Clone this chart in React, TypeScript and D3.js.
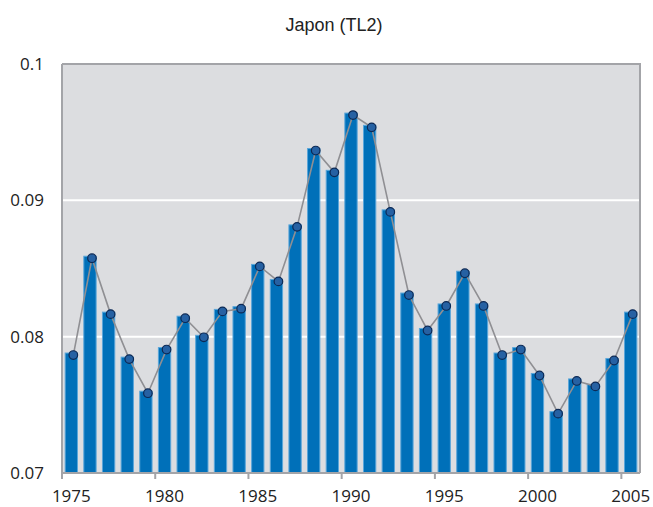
import React, { useEffect, useRef } from 'react';
import * as d3 from 'd3';

const years = d3.range(1975, 2006);
const values = [
  0.0788, 0.0859, 0.0818, 0.0785, 0.0760, 0.0792, 0.0815, 0.0801, 0.0820, 0.0822,
  0.0853, 0.0842, 0.0882, 0.0938, 0.0922, 0.0964, 0.0955, 0.0893, 0.0832, 0.0806,
  0.0824, 0.0848, 0.0824, 0.0788, 0.0792, 0.0773, 0.0745, 0.0769, 0.0765, 0.0784,
  0.0818,
];
const yTicks = [0.07, 0.08, 0.09, 0.1];
const xTickYears = [1975, 1980, 1985, 1990, 1995, 2000, 2005];
const title = 'Japon (TL2)';

const W = 653;
const H = 507;
const margin = { top: 64, right: 13, bottom: 34, left: 62 };

export default function App() {
  const ref = useRef<SVGSVGElement>(null);

  useEffect(() => {
    const svg = d3.select(ref.current);
    svg.selectAll('*').remove();

    const x = d3
      .scaleBand<number>()
      .domain(years)
      .range([margin.left, W - margin.right])
      .paddingInner(0.34)
      .paddingOuter(0.17);
    const step = x.step();
    // line series sits a touch to the right of the bar centres
    const xl = d3
      .scalePoint<number>()
      .domain(years)
      .range([margin.left + step / 2 + 2, W - margin.right - step / 2 + 2]);
    const y = d3
      .scaleLinear()
      .domain([0.07, 0.1])
      .range([H - margin.bottom, margin.top]);

    const data = years.map((yr, i) => ({ yr, v: values[i] }));

    // plot background
    svg
      .append('rect')
      .attr('x', margin.left)
      .attr('y', margin.top)
      .attr('width', W - margin.left - margin.right)
      .attr('height', H - margin.top - margin.bottom)
      .attr('fill', '#dcdde0');

    // grid
    svg
      .append('g')
      .selectAll('line')
      .data(yTicks.slice(1, -1))
      .enter()
      .append('line')
      .attr('x1', margin.left)
      .attr('x2', W - margin.right)
      .attr('y1', (d) => y(d))
      .attr('y2', (d) => y(d))
      .attr('stroke', '#ffffff')
      .attr('stroke-width', 2);

    // top + right frame
    svg
      .append('path')
      .attr(
        'd',
        `M${margin.left},${y(0.1)}H${W - margin.right}V${H - margin.bottom}`
      )
      .attr('fill', 'none')
      .attr('stroke', '#a3a4a8')
      .attr('stroke-width', 2);

    // bars
    svg
      .append('g')
      .selectAll('rect')
      .data(data)
      .enter()
      .append('rect')
      .attr('x', (d) => x(d.yr)!)
      .attr('y', (d) => y(d.v))
      .attr('width', x.bandwidth())
      .attr('height', (d) => y(0.07) - y(d.v))
      .attr('fill', '#0070b9')
      .attr('stroke', '#5aa6da')
      .attr('stroke-width', 1);

    // line
    const line = d3
      .line<{ yr: number; v: number }>()
      .x((d) => xl(d.yr)!)
      .y((d) => y(d.v) + 2);
    svg
      .append('path')
      .datum(data)
      .attr('d', line)
      .attr('fill', 'none')
      .attr('stroke', '#8f8f93')
      .attr('stroke-width', 1.6);

    svg
      .append('g')
      .selectAll('circle')
      .data(data)
      .enter()
      .append('circle')
      .attr('cx', (d) => xl(d.yr)!)
      .attr('cy', (d) => y(d.v) + 2)
      .attr('r', 4.3)
      .attr('fill', '#2661a3')
      .attr('stroke', '#0c2955')
      .attr('stroke-width', 1.2);

    // axes lines
    const axisColor = '#a3a4a8';
    svg
      .append('line')
      .attr('x1', margin.left)
      .attr('x2', margin.left)
      .attr('y1', margin.top)
      .attr('y2', H - margin.bottom)
      .attr('stroke', axisColor)
      .attr('stroke-width', 2);
    svg
      .append('line')
      .attr('x1', margin.left)
      .attr('x2', W - margin.right)
      .attr('y1', H - margin.bottom)
      .attr('y2', H - margin.bottom)
      .attr('stroke', axisColor)
      .attr('stroke-width', 2);

    // x ticks at band left edges, labels at band centres
    const xt = svg.append('g');
    xt.selectAll('line')
      .data(xTickYears)
      .enter()
      .append('line')
      .attr('x1', (d) => margin.left + (d - 1975) * step)
      .attr('x2', (d) => margin.left + (d - 1975) * step)
      .attr('y1', H - margin.bottom)
      .attr('y2', H - margin.bottom + 6)
      .attr('stroke', axisColor)
      .attr('stroke-width', 2);
    xt.selectAll('text')
      .data(xTickYears)
      .enter()
      .append('text')
      .attr('x', (d) => x(d)! + x.bandwidth() / 2)
      .attr('y', H - 5)
      .attr('text-anchor', 'middle')
      .attr('font-family', '"Open Sans", sans-serif')
      .attr('font-size', 17)
      .attr('fill', '#222')
      .text((d) => d);

    // y labels
    svg
      .append('g')
      .selectAll('text')
      .data(yTicks)
      .enter()
      .append('text')
      .attr('x', 44)
      .attr('y', (d) => y(d))
      .attr('dy', '0.36em')
      .attr('text-anchor', 'end')
      .attr('font-family', '"Open Sans", sans-serif')
      .attr('font-size', 17)
      .attr('fill', '#222')
      .text((d) => d3.format('')(d));

    svg
      .append('text')
      .attr('x', 334)
      .attr('y', 31)
      .attr('text-anchor', 'middle')
      .attr('font-family', '"Liberation Sans", Arial, sans-serif')
      .attr('font-size', 18)
      .attr('fill', '#222')
      .text(title);
  }, []);

  return (
    <svg
      ref={ref}
      width={W}
      height={H}
      style={{ position: 'absolute', left: 0, top: 0, background: '#fff' }}
    />
  );
}
